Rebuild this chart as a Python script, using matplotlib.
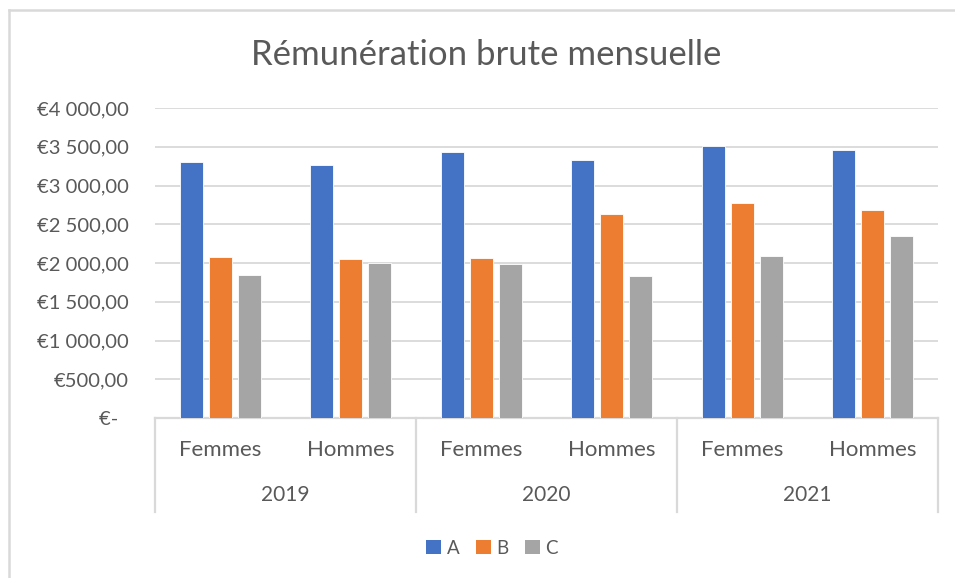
import matplotlib.pyplot as plt
from matplotlib.transforms import blended_transform_factory
from matplotlib.lines import Line2D
from matplotlib.patches import Patch
import numpy as np

plt.rcParams['font.family'] = ['Lato', 'DejaVu Sans']

years = ["2019", "2020", "2021"]
genres = ["Femmes", "Hommes"]
series = ["A", "B", "C"]
val_a = [3298, 3269, 3437, 3329, 3514, 3463]
val_b = [2076, 2054, 2067, 2627, 2774, 2684]
val_c = [1843, 2003, 1981, 1835, 2093, 2351]
couleurs = ["#4472C4", "#ED7D31", "#A5A5A5"]
yticks = [0, 500, 1000, 1500, 2000, 2500, 3000, 3500, 4000]
ylabels = ["€-  ", "€500,00", "€1 000,00", "€1 500,00", "€2 000,00",
           "€2 500,00", "€3 000,00", "€3 500,00", "€4 000,00"]

gris_txt = "#595959"
gris_ligne = "#D9D9D9"

W, H = 955, 578
fig = plt.figure(figsize=(W / 100, H / 100), dpi=100)
ax = fig.add_axes([155 / W, 1 - 418 / H, 783 / W, 310 / H])

x = np.arange(len(val_a))
pas, larg = 0.222, 0.178
for i, (vals, c) in enumerate(zip([val_a, val_b, val_c], couleurs)):
    ax.bar(x + (i - 1) * pas, vals, larg, color=c, edgecolor="white",
           linewidth=0.6, zorder=3, label=series[i])

ax.set_xlim(-0.5, len(x) - 0.5)
ax.set_ylim(0, 4000)
ax.set_yticks(yticks)
ax.set_yticklabels(ylabels, fontsize=14.5, color=gris_txt)
ax.tick_params(axis="y", length=0, pad=19)
ax.set_xticks([])
ax.grid(axis="y", color=gris_ligne, linewidth=1.3, zorder=0)
for s in ax.spines.values():
    s.set_visible(False)

# axe des categories a deux niveaux
trans = blended_transform_factory(ax.transData, fig.transFigure)
ax.add_line(Line2D([-0.5, 5.5], [0, 0], color=gris_ligne, lw=1.6,
                   clip_on=False, zorder=2))
for xs in [-0.5, 1.5, 3.5, 5.5]:
    fig.add_artist(Line2D([xs, xs], [1 - 418 / H, 1 - 512 / H],
                          transform=trans, color=gris_ligne, lw=1.6))
for i in x:
    fig.text(i, 1 - 450 / H, genres[i % 2], transform=trans, ha="center",
             va="center", fontsize=16, color=gris_txt)
for k, an in enumerate(years):
    fig.text(2 * k + 0.5, 1 - 495 / H, an, transform=trans, ha="center",
             va="center", fontsize=15, color=gris_txt)

fig.text(486 / W, 1 - 55 / H, "Rémunération brute mensuelle", ha="center",
         va="center", fontsize=25, color=gris_txt)

poignees = [Patch(facecolor=c, edgecolor="none") for c in couleurs]
fig.legend(poignees, series, loc="center", bbox_to_anchor=(492 / W, 1 - 548 / H),
           ncol=3, frameon=False, fontsize=13.5, handlelength=0.8,
           handleheight=0.8, handletextpad=0.3, columnspacing=0.85,
           labelcolor=gris_txt)

# cadre du graphique (haut et gauche)
fig.add_artist(Line2D([9 / W, 1], [1 - 10 / H, 1 - 10 / H], color=gris_ligne, lw=1.8))
fig.add_artist(Line2D([9 / W, 9 / W], [0, 1 - 10 / H], color=gris_ligne, lw=1.8))

fig.savefig("out.png", dpi=100)
